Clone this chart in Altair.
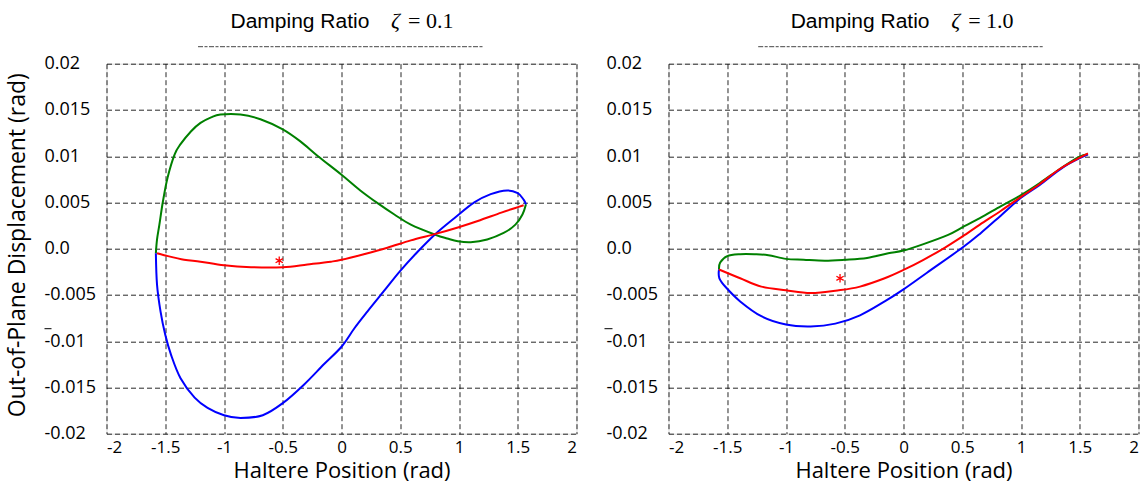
import altair as alt
import pandas as pd

# ---------------- data ----------------
# Damping ratio 0.1
g1_x = [-1.58, -1.57, -1.55, -1.52, -1.48, -1.42, -1.37, -1.28, -1.20, -1.11, -1.03, -0.86, -0.69, -0.50,
        -0.35, -0.20, 0.0, 0.16, 0.31, 0.45, 0.59, 0.80, 0.90, 0.99, 1.10, 1.24, 1.38, 1.48, 1.54, 1.57]
g1_y = [-0.0005, 0.0010, 0.0026, 0.0051, 0.0077, 0.0102, 0.0113, 0.0127, 0.0136, 0.0142, 0.0145, 0.0145,
        0.0140, 0.0129, 0.0116, 0.0100, 0.0080, 0.0063, 0.0049, 0.0037, 0.0026, 0.0015, 0.0011, 0.0008,
        0.0007, 0.0010, 0.0017, 0.0026, 0.0037, 0.0048]
b1_x = [-1.58, -1.57, -1.54, -1.50, -1.45, -1.37, -1.25, -1.14, -1.00, -0.86, -0.67, -0.50, -0.32, -0.15,
        0.0, 0.11, 0.22, 0.36, 0.50, 0.65, 0.80, 0.96, 1.13, 1.27, 1.41, 1.50, 1.55, 1.57]
b1_y = [-0.0005, -0.0039, -0.0068, -0.0093, -0.0115, -0.0140, -0.0161, -0.0172, -0.0180, -0.0183, -0.0180,
        -0.0167, -0.0147, -0.0125, -0.0106, -0.0086, -0.0068, -0.0046, -0.0024, -0.0003, 0.0016, 0.0033,
        0.0050, 0.0059, 0.0063, 0.0060, 0.0053, 0.0048]
r1_x = [-1.57, -1.51, -1.34, -1.20, -1.00, -0.77, -0.50, -0.29, -0.09, 0.0, 0.19, 0.39, 0.59, 0.80, 0.99,
        1.16, 1.36, 1.48, 1.55]
r1_y = [-0.0005, -0.0007, -0.0012, -0.0014, -0.0018, -0.0020, -0.0020, -0.0017, -0.0014, -0.0012, -0.0006,
        0.0001, 0.0009, 0.0016, 0.0023, 0.0030, 0.0039, 0.0044, 0.0047]
star1_x = [-0.53]
star1_y = [-0.0013]

# Damping ratio 1.0
g2_x = [-1.57, -1.56, -1.50, -1.39, -1.27, -1.15, -1.0, -0.85, -0.67, -0.50, -0.31, -0.13, 0.0, 0.17, 0.38,
        0.50, 0.65, 0.83, 1.0, 1.16, 1.34, 1.49, 1.57]
g2_y = [-0.00225, -0.0015, -0.0008, -0.0006, -0.0006, -0.0007, -0.0011, -0.0012, -0.0013, -0.0012, -0.0010,
        -0.0005, -0.0002, 0.0005, 0.0015, 0.0023, 0.0033, 0.0046, 0.0058, 0.0071, 0.0087, 0.0099, 0.0102]
r2_x = [-1.57, -1.39, -1.21, -1.0, -0.79, -0.55, -0.37, -0.16, 0.0, 0.17, 0.35, 0.50, 0.65, 0.83, 1.0,
        1.16, 1.34, 1.57]
r2_y = [-0.00225, -0.0032, -0.0041, -0.0045, -0.0048, -0.0045, -0.0041, -0.0032, -0.0023, -0.0012, 0.0001,
        0.0013, 0.0026, 0.0041, 0.0056, 0.0070, 0.0087, 0.0103]
b2_x = [-1.57, -1.567, -1.51, -1.39, -1.21, -1.0, -0.79, -0.58, -0.37, -0.16, 0.0, 0.20, 0.50, 0.65, 0.83,
        1.0, 1.16, 1.37, 1.57]
b2_y = [-0.00225, -0.0032, -0.0042, -0.0057, -0.0073, -0.0082, -0.0084, -0.0081, -0.0072, -0.0057, -0.0044,
        -0.0026, 0.0001, 0.0016, 0.0036, 0.0055, 0.0069, 0.0089, 0.0102]
star2_x = [-0.54]
star2_y = [-0.0032]

x_ticks = [-2, -1.5, -1, -0.5, 0, 0.5, 1, 1.5, 2]
y_ticks = [0.02, 0.015, 0.01, 0.005, 0.0, -0.005, -0.01, -0.015, -0.02]

titles_left = ["Damping Ratio", "\u03b6", "= 0.1"]
titles_right = ["Damping Ratio", "\u03b6", "= 1.0"]
x_title = "Haltere Position (rad)"
y_title = "Out-of-Plane Displacement  (rad)"

series_names = ["green", "blue", "red"]
series_colors = ["#008000", "#0000ff", "#ff0000"]

FONT = "Open Sans"


def curves_frame(gx, gy, bx, by, rx, ry):
    rows = []
    for name, xs, ys in (("green", gx, gy), ("blue", bx, by), ("red", rx, ry)):
        for i, (a, b) in enumerate(zip(xs, ys)):
            rows.append({"x": a, "y": b, "series": name, "i": i})
    return pd.DataFrame(rows)


y_label_expr = (
    "datum.value < 0 ? '-' + toString(round(-datum.value*1000)/1000) : "
    "'\u2002' + (datum.value == 0 ? '0.0' : toString(round(datum.value*1000)/1000))"
)


def panel(df, sx, sy, titles, title_dx, rule_x, dash_x, dash_y, show_ytitle):
    xs = alt.Scale(domain=[-2, 2], nice=False, zero=False)
    ys = alt.Scale(domain=[-0.02, 0.02], nice=False, zero=False)
    x_axis = alt.Axis(values=x_ticks, labelExpr="toString(datum.value)", grid=True,
                      gridDash=[5, 3], gridColor="#000000", gridWidth=1, gridOpacity=0.85,
                      domain=False, ticks=False, tickSize=0, labelPadding=6,
                      labelFont=FONT, labelFontSize=17, labelColor="#000000",
                      title=x_title, titleFont=FONT, titleFontSize=22, titleFontWeight="normal",
                      titleColor="#000000", titleY=27, titleBaseline="top")
    y_kwargs = dict(values=y_ticks, labelExpr=y_label_expr, grid=True,
                    gridDash=[5, 3], gridColor="#000000", gridWidth=1, gridOpacity=0.85,
                    domain=False, ticks=False, tickSize=0, labelAlign="left", labelPadding=62.5,
                    labelFont=FONT, labelFontSize=18, labelColor="#000000")
    if show_ytitle:
        y_axis = alt.Axis(title=y_title, titleFont=FONT, titleFontSize=23, titleFontWeight="normal",
                          titleColor="#000000", titleX=-77, titleY=181, **y_kwargs)
    else:
        y_axis = alt.Axis(title=None, **y_kwargs)

    lines = alt.Chart(df).mark_line(strokeWidth=2, interpolate="cardinal").encode(
        x=alt.X("x:Q", scale=xs, axis=x_axis),
        y=alt.Y("y:Q", scale=ys, axis=y_axis),
        color=alt.Color("series:N", scale=alt.Scale(domain=series_names, range=series_colors), legend=None),
        detail="series:N",
        order="i:Q",
    )
    star = alt.Chart(pd.DataFrame({"x": sx, "y": sy})).mark_point(
        shape="M0,-1L0,1M-0.87,-0.5L0.87,0.5M-0.87,0.5L0.87,-0.5",
        filled=False, color="#ff0000", strokeWidth=1.3, size=70, opacity=1,
    ).encode(x=alt.X("x:Q", scale=xs), y=alt.Y("y:Q", scale=ys))

    one = pd.DataFrame({"a": [0]})
    t1 = alt.Chart(one).mark_text(text=titles[0], font="Liberation Sans", fontSize=21, align="left",
                                  baseline="alphabetic", color="#000000").encode(
        x=alt.value(title_dx[0]), y=alt.value(-35.5))
    t2 = alt.Chart(one).mark_text(text=titles[1], font="Liberation Serif", fontSize=22, fontStyle="italic",
                                  align="left", baseline="alphabetic", color="#000000").encode(
        x=alt.value(title_dx[1]), y=alt.value(-35.5))
    t3 = alt.Chart(one).mark_text(text=titles[2], font="Liberation Serif", fontSize=22, align="left",
                                  baseline="alphabetic", color="#000000").encode(
        x=alt.value(title_dx[2]), y=alt.value(-35.5))
    dotted = alt.Chart(one).mark_rule(color="#444444", strokeWidth=1, strokeDash=[5, 1.5, 3, 1.5]).encode(
        x=alt.value(rule_x[0]), x2=alt.value(rule_x[1]), y=alt.value(-17))
    dash = alt.Chart(one).mark_rule(color="#000000", strokeWidth=1).encode(
        x=alt.value(dash_x[0]), x2=alt.value(dash_x[1]), y=alt.value(dash_y))

    return alt.layer(lines, star, t1, t2, t3, dotted, dash).properties(width=470, height=370)


left = panel(curves_frame(g1_x, g1_y, b1_x, b1_y, r1_x, r1_y), star1_x, star1_y, titles_left,
             (124.0, 284.5, 301.5), (91.5, 377.5), (-62, -55), 265, True)
right = panel(curves_frame(g2_x, g2_y, b2_x, b2_y, r2_x, r2_y), star2_x, star2_y, titles_right,
              (122.2, 282.7, 299.7), (89.7, 375.7), (-64, -56), 265, False)

chart = alt.hconcat(left, right, spacing=92, bounds="flush").properties(
    padding={"left": 5.5, "top": 9.7, "right": 0, "bottom": 4}
).configure_view(stroke="#000000", strokeWidth=2).configure(background="white")

chart.save("out.html", embed_options={"renderer": "svg", "actions": False})
